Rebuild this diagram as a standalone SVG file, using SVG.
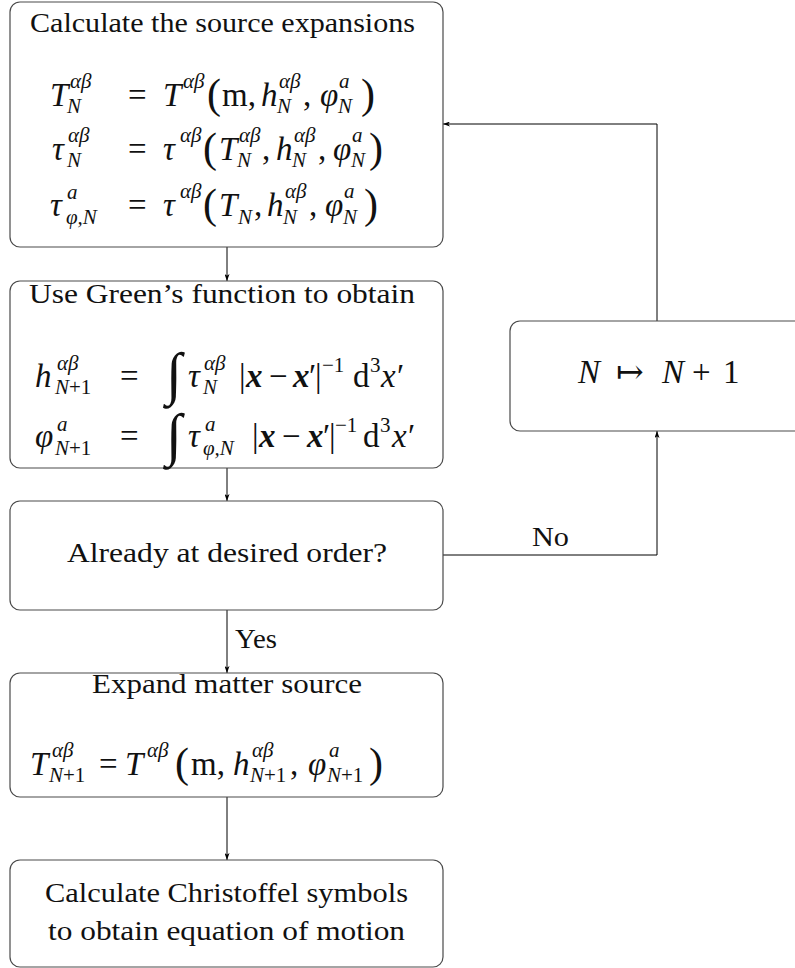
<svg xmlns="http://www.w3.org/2000/svg" width="795" height="968" viewBox="0 0 795 968">
<style>
.box{fill:#fff;stroke:#4a4a4a;stroke-width:1.2}
.ln{fill:none;stroke:#000;stroke-width:1}
text{font-family:"Liberation Serif","DejaVu Serif",serif;fill:#111}
.ti{font-size:27px}
.m{font-size:33px}
.i{font-style:italic}
.s{font-size:21px}
.b{font-weight:bold;font-style:italic}
.p{font-size:42px}
.int{font-size:58px;font-style:italic}
</style>
<defs>
<marker id="ah" viewBox="0 0 7 5" refX="7" refY="2.5" markerWidth="7" markerHeight="5" orient="auto" markerUnits="userSpaceOnUse"><path d="M0,0 L7,2.5 L0,5 L1.8,2.5 z" fill="#000"/></marker>
</defs>

<g id="connectors">
<path class="ln" d="M227,247 V281" marker-end="url(#ah)"/>
<path class="ln" d="M227,468 V501" marker-end="url(#ah)"/>
<path class="ln" d="M227,610 V673" marker-end="url(#ah)"/>
<path class="ln" d="M227,797 V860" marker-end="url(#ah)"/>
<path class="ln" d="M443,555 H657 V431" marker-end="url(#ah)"/>
<path class="ln" d="M657,321 V124 H443" marker-end="url(#ah)"/>
<text class="ti" x="235" y="648" textLength="42" lengthAdjust="spacingAndGlyphs">Yes</text>
<text class="ti" x="532" y="546" textLength="37" lengthAdjust="spacingAndGlyphs">No</text>
</g>

<g id="source-expansions">
<rect class="box" x="10" y="2" width="433" height="245" rx="10"/>
<text class="ti" x="30" y="32" textLength="385" lengthAdjust="spacingAndGlyphs">Calculate the source expansions</text>
<text class="m">
<tspan class="i" x="50" y="106">T</tspan><tspan class="s i" x="70" y="88">αβ</tspan><tspan class="s i" x="67" y="113">N</tspan>
<tspan x="128" y="106">=</tspan>
<tspan class="i" x="163" y="106">T</tspan><tspan class="s i" x="183" y="88">αβ</tspan>
<tspan class="p" x="207" y="108">(</tspan>
<tspan x="222" y="106">m,</tspan>
<tspan class="i" x="261" y="106">h</tspan><tspan class="s i" x="279" y="88">αβ</tspan><tspan class="s i" x="277" y="113">N</tspan>
<tspan x="303" y="106">,</tspan>
<tspan class="i" x="320" y="106">φ</tspan><tspan class="s i" x="339" y="88">a</tspan><tspan class="s i" x="338" y="113">N</tspan>
<tspan class="p" x="361" y="108">)</tspan>
</text>
<text class="m">
<tspan class="i" x="52" y="160">τ</tspan><tspan class="s i" x="68" y="142">αβ</tspan><tspan class="s i" x="67" y="167">N</tspan>
<tspan x="128" y="160">=</tspan>
<tspan class="i" x="163" y="160">τ</tspan><tspan class="s i" x="180" y="142">αβ</tspan>
<tspan class="p" x="203" y="162">(</tspan>
<tspan class="i" x="219" y="160">T</tspan><tspan class="s i" x="239" y="142">αβ</tspan><tspan class="s i" x="237" y="167">N</tspan>
<tspan x="262" y="160">,</tspan>
<tspan class="i" x="276" y="160">h</tspan><tspan class="s i" x="294" y="142">αβ</tspan><tspan class="s i" x="292" y="167">N</tspan>
<tspan x="318" y="160">,</tspan>
<tspan class="i" x="333" y="160">φ</tspan><tspan class="s i" x="352" y="142">a</tspan><tspan class="s i" x="351" y="167">N</tspan>
<tspan class="p" x="369" y="162">)</tspan>
</text>
<text class="m">
<tspan class="i" x="50" y="216">τ</tspan><tspan class="s i" x="67" y="199">a</tspan><tspan class="s i" x="66" y="224">φ,N</tspan>
<tspan x="128" y="216">=</tspan>
<tspan class="i" x="163" y="216">τ</tspan><tspan class="s i" x="180" y="198">αβ</tspan>
<tspan class="p" x="203" y="218">(</tspan>
<tspan class="i" x="219" y="216">T</tspan><tspan class="s i" x="238" y="224">N</tspan>
<tspan x="254" y="216">,</tspan>
<tspan class="i" x="267" y="216">h</tspan><tspan class="s i" x="285" y="198">αβ</tspan><tspan class="s i" x="283" y="224">N</tspan>
<tspan x="309" y="216">,</tspan>
<tspan class="i" x="325" y="216">φ</tspan><tspan class="s i" x="344" y="198">a</tspan><tspan class="s i" x="343" y="224">N</tspan>
<tspan class="p" x="364" y="218">)</tspan>
</text>
</g>

<g id="greens-function">
<rect class="box" x="10" y="281" width="433" height="187" rx="10"/>
<text class="ti" x="29" y="303" textLength="386" lengthAdjust="spacingAndGlyphs">Use Green’s function to obtain</text>
<text class="m">
<tspan class="i" x="35" y="387">h</tspan><tspan class="s i" x="57" y="370">αβ</tspan><tspan class="s" x="55" y="394"><tspan class="i">N</tspan>+1</tspan>
<tspan x="120" y="387">=</tspan>
<tspan class="int" x="166" y="393">∫</tspan>
<tspan class="i" x="188" y="387">τ</tspan><tspan class="s i" x="204" y="370">αβ</tspan><tspan class="s i" x="203" y="394">N</tspan>
<tspan x="239" y="387">|</tspan><tspan class="b" x="246" y="387">x</tspan><tspan x="269" y="387">−</tspan><tspan class="b" x="293" y="387">x</tspan><tspan x="309" y="387">′</tspan><tspan x="315" y="387">|</tspan><tspan class="s" x="322" y="372">−1</tspan>
<tspan x="353" y="387">d</tspan><tspan class="s" x="370" y="372">3</tspan><tspan class="i" x="381" y="387">x</tspan><tspan x="397" y="387">′</tspan>
</text>
<text class="m">
<tspan class="i" x="35" y="447">φ</tspan><tspan class="s i" x="57" y="431">a</tspan><tspan class="s" x="55" y="455"><tspan class="i">N</tspan>+1</tspan>
<tspan x="120" y="447">=</tspan>
<tspan class="int" x="166" y="454">∫</tspan>
<tspan class="i" x="188" y="447">τ</tspan><tspan class="s i" x="205" y="431">a</tspan><tspan class="s i" x="203" y="455">φ,N</tspan>
<tspan x="252" y="447">|</tspan><tspan class="b" x="259" y="447">x</tspan><tspan x="282" y="447">−</tspan><tspan class="b" x="307" y="447">x</tspan><tspan x="323" y="447">′</tspan><tspan x="329" y="447">|</tspan><tspan class="s" x="335" y="432">−1</tspan>
<tspan x="363" y="447">d</tspan><tspan class="s" x="380" y="432">3</tspan><tspan class="i" x="392" y="447">x</tspan><tspan x="408" y="447">′</tspan>
</text>
</g>

<g id="desired-order">
<rect class="box" x="10" y="501" width="433" height="109" rx="10"/>
<text class="ti" x="67" y="562" textLength="320" lengthAdjust="spacingAndGlyphs">Already at desired order?</text>
</g>

<g id="increment">
<rect class="box" x="510" y="321" width="300" height="110" rx="10"/>
<text class="m"><tspan class="i" x="578" y="383">N</tspan><tspan x="616" y="383">↦</tspan><tspan class="i" x="662" y="383">N</tspan><tspan x="692" y="383">+</tspan><tspan x="723" y="383">1</tspan></text>
</g>

<g id="matter-source">
<rect class="box" x="10" y="673" width="433" height="124" rx="10"/>
<text class="ti" x="92" y="693" textLength="270" lengthAdjust="spacingAndGlyphs">Expand matter source</text>
<text class="m">
<tspan class="i" x="30" y="775">T</tspan><tspan class="s i" x="52" y="757">αβ</tspan><tspan class="s" x="49" y="782"><tspan class="i">N</tspan>+1</tspan>
<tspan x="99" y="775">=</tspan>
<tspan class="i" x="125" y="775">T</tspan><tspan class="s i" x="147" y="757">αβ</tspan>
<tspan class="p" x="175" y="777">(</tspan>
<tspan x="191" y="775">m,</tspan>
<tspan class="i" x="233" y="775">h</tspan><tspan class="s i" x="252" y="757">αβ</tspan><tspan class="s" x="250" y="782"><tspan class="i">N</tspan>+1</tspan>
<tspan x="290" y="775">,</tspan>
<tspan class="i" x="308" y="775">φ</tspan><tspan class="s i" x="329" y="757">a</tspan><tspan class="s" x="327" y="782"><tspan class="i">N</tspan>+1</tspan>
<tspan class="p" x="369" y="777">)</tspan>
</text>
</g>

<g id="christoffel">
<rect class="box" x="10" y="860" width="433" height="107" rx="10"/>
<text class="ti" x="45" y="902" textLength="363" lengthAdjust="spacingAndGlyphs">Calculate Christoffel symbols</text>
<text class="ti" x="48" y="940" textLength="357" lengthAdjust="spacingAndGlyphs">to obtain equation of motion</text>
</g>
</svg>
